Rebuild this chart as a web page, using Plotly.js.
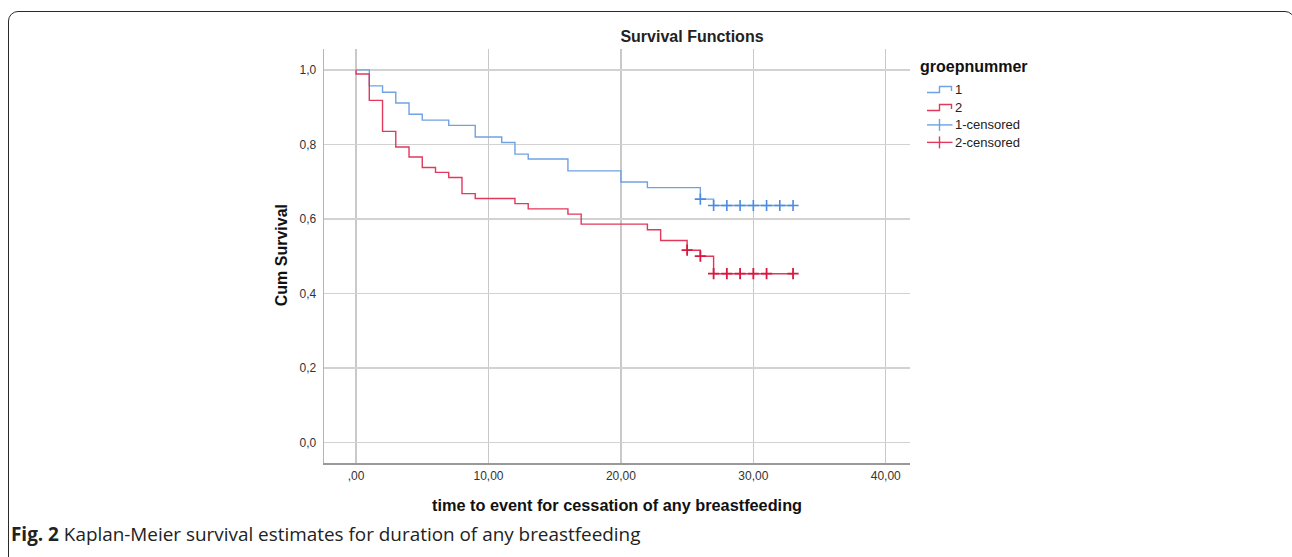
<!DOCTYPE html>
<html>
<head>
<meta charset="utf-8">
<script src="https://cdn.plot.ly/plotly-3.0.1.min.js"></script>
<style>
  html, body { margin: 0; padding: 0; background: #fff; }
  #wrap { position: relative; width: 1292px; height: 557px; overflow: hidden; }
  #frame { position: absolute; left: 8px; top: 11px; width: 1287px; height: 600px;
           border: 1.6px solid #2a2a2a; border-radius: 10px; box-sizing: border-box; }
  #chart { position: absolute; left: 0; top: 0; width: 1292px; height: 557px; }
  #caption { position: absolute; left: 11px; top: 521px; font-family: "Open Sans", sans-serif;
             font-size: 18.9px; color: #222; white-space: nowrap; }
  #caption b { font-weight: 700; }
</style>
</head>
<body>
<div id="wrap">
  <div id="chart"></div>
  <div id="frame"></div>
  <div id="caption"><b>Fig. 2</b> Kaplan-Meier survival estimates for duration of any breastfeeding</div>
</div>
<script>
// Group 1 survival steps
const g1Time = [0, 1, 2, 3, 4, 5, 7, 9, 11, 12, 13, 16, 20, 22, 26, 27, 33];
const g1Surv = [1.0, 0.957, 0.940, 0.911, 0.881, 0.865, 0.851, 0.820, 0.805, 0.774, 0.761, 0.729, 0.699, 0.684, 0.653, 0.636, 0.636];
// Group 2 survival steps
const g2Time = [0, 0, 1, 2, 3, 4, 5, 6, 7, 8, 9, 12, 13, 16, 17, 22, 23, 25, 26, 27, 33];
const g2Surv = [1.0, 0.989, 0.918, 0.835, 0.793, 0.766, 0.738, 0.725, 0.711, 0.668, 0.655, 0.641, 0.627, 0.613, 0.586, 0.571, 0.542, 0.516, 0.500, 0.453, 0.453];
// Censored observations
const g1CensTime = [26, 27, 28, 29, 30, 31, 32, 33];
const g1CensSurv = [0.653, 0.636, 0.636, 0.636, 0.636, 0.636, 0.636, 0.636];
const g2CensTime = [25, 26, 27, 28, 29, 30, 31, 33];
const g2CensSurv = [0.516, 0.500, 0.453, 0.453, 0.453, 0.453, 0.453, 0.453];
// Tick labels
const xTickVals = [0, 10, 20, 30, 40];
const xTickLabels = [',00', '10,00', '20,00', '30,00', '40,00'];
const yTickVals = [0, 0.2, 0.4, 0.6, 0.8, 1.0];
const yTickLabels = ['0,0', '0,2', '0,4', '0,6', '0,8', '1,0'];
const seriesNames = ['1', '2', '1-censored', '2-censored'];
const legendTitle = 'groepnummer';

const blue = '#6fa2e4';
const red = '#e0395c';
const blueC = '#4d8be0';
const redC = '#d81840';
const colors = [blue, red, blue, red];

// plot area in pixels (for layout of the hand-drawn legend and titles)
const L = 324, R = 910, T = 49, B = 463.5;
const PX = p => (p - L) / (R - L);
const PY = p => (B - p) / (B - T);

const traces = [
  { x: g1Time, y: g1Surv, type: 'scatter', mode: 'lines', name: seriesNames[0],
    line: { shape: 'hv', color: blue, width: 1.4 } },
  { x: g2Time, y: g2Surv, type: 'scatter', mode: 'lines', name: seriesNames[1],
    line: { shape: 'hv', color: red, width: 1.4 } },
  { x: g1CensTime, y: g1CensSurv, type: 'scatter', mode: 'markers', name: seriesNames[2],
    marker: { symbol: 'cross-thin', size: 8, color: blueC, line: { color: blueC, width: 1.6 } } },
  { x: g2CensTime, y: g2CensSurv, type: 'scatter', mode: 'markers', name: seriesNames[3],
    marker: { symbol: 'cross-thin', size: 8, color: redC, line: { color: redC, width: 1.8 } } }
];

// custom SPSS-style legend
const legendRows = [89.5, 107.5, 125, 142.5];
const shapes = [];
const annotations = [];
const icoL = 927, icoM = 939.5, icoR = 951.5;
legendRows.forEach((yc, i) => {
  const c = colors[i];
  if (i < 2) {
    const p = `M ${PX(icoL)},${PY(yc + 3)} L ${PX(icoM)},${PY(yc + 3)} L ${PX(icoM)},${PY(yc - 3)} L ${PX(icoR)},${PY(yc - 3)} L ${PX(icoR)},${PY(yc + 1.5)}`;
    shapes.push({ type: 'path', xref: 'paper', yref: 'paper', path: p, line: { color: c, width: 1.4 } });
  } else {
    shapes.push({ type: 'line', xref: 'paper', yref: 'paper', x0: PX(icoL), x1: PX(icoR + 1), y0: PY(yc), y1: PY(yc), line: { color: c, width: 1.4 } });
    shapes.push({ type: 'line', xref: 'paper', yref: 'paper', x0: PX(icoM), x1: PX(icoM), y0: PY(yc - 6), y1: PY(yc + 6), line: { color: c, width: 1.4 } });
  }
  annotations.push({ xref: 'paper', yref: 'paper', x: PX(953), y: PY(yc), xanchor: 'left', yanchor: 'middle',
    showarrow: false, text: seriesNames[i], font: { size: 13, color: '#222' } });
});
annotations.push({ xref: 'paper', yref: 'paper', x: PX(918), y: PY(67), xanchor: 'left', yanchor: 'middle',
  showarrow: false, text: '<b>' + legendTitle + '</b>', font: { size: 16, color: '#111' } });
// axis titles
annotations.push({ xref: 'paper', yref: 'paper', x: 0.5, y: PY(506), xanchor: 'center', yanchor: 'middle',
  showarrow: false, text: '<b>time to event for cessation of any breastfeeding</b>', font: { size: 16.3, color: '#111' } });
annotations.push({ xref: 'paper', yref: 'paper', x: PX(281), y: PY(255.5), xanchor: 'center', yanchor: 'middle',
  textangle: -90, showarrow: false, text: '<b>Cum Survival</b>', font: { size: 16, color: '#111' } });

const layout = {
  width: 1292, height: 557,
  margin: { l: L, r: 1292 - R, t: T, b: 557 - B, pad: 0 },
  paper_bgcolor: 'rgba(0,0,0,0)',
  plot_bgcolor: '#ffffff',
  font: { family: 'Arial, "Liberation Sans", sans-serif', color: '#222' },
  title: { text: '<b>Survival Functions</b>', x: 0.5356, xanchor: 'center', y: 0.9345, yanchor: 'middle',
           font: { size: 16, color: '#222' } },
  xaxis: {
    range: [-2.42, 41.83], tickvals: xTickVals, ticktext: xTickLabels,
    showgrid: true, gridcolor: '#c9c9c9', gridwidth: 1.3, zeroline: false,
    showline: true, linecolor: '#999', linewidth: 1.8,
    ticks: '', tickfont: { size: 12, color: '#333' }, ticklabelstandoff: 1
  },
  yaxis: {
    range: [-0.055, 1.056], tickvals: yTickVals, ticktext: yTickLabels,
    showgrid: true, gridcolor: '#d2d2d2', gridwidth: 1.8, zeroline: false,
    showline: true, linecolor: '#b5b5b5', linewidth: 1.3,
    ticks: '', tickfont: { size: 12, color: '#333' }, ticklabelstandoff: 4
  },
  showlegend: false,
  shapes: shapes,
  annotations: annotations
};

Plotly.newPlot('chart', traces, layout, { displayModeBar: false, staticPlot: true });
</script>
</body>
</html>
